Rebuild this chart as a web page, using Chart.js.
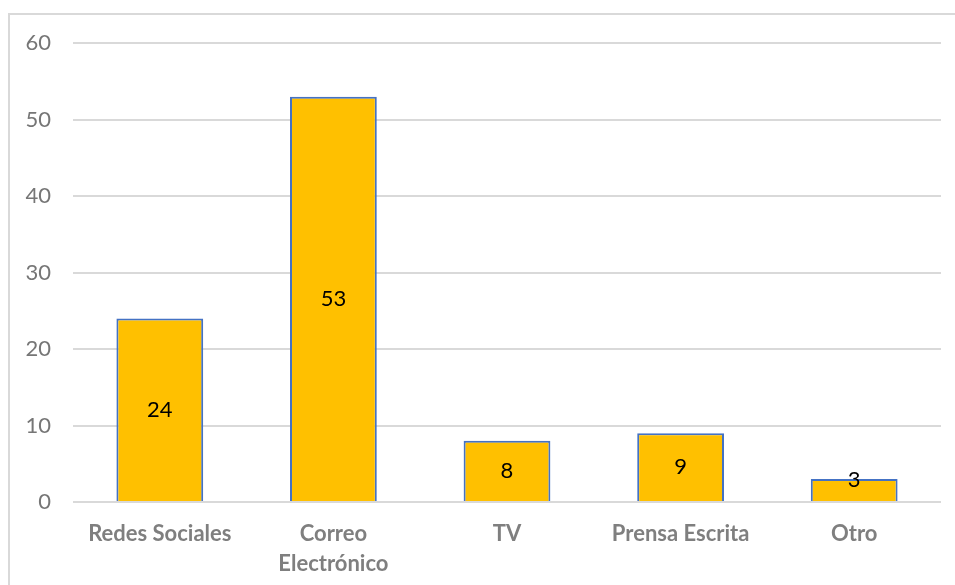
<!DOCTYPE html>
<html>
<head>
<meta charset="utf-8">
<script src="https://cdn.jsdelivr.net/npm/chart.js@4"></script>
<style>
  html, body { margin: 0; padding: 0; background: #ffffff; overflow: hidden; }
  .chart-box {
    position: absolute;
    left: 8px;
    top: 13px;
    width: 952px;
    height: 580px;
    border: 2px solid #d9d9d9;
    box-sizing: border-box;
  }
  .chart-box canvas { display: block; position: relative; top: -7px; }
</style>
</head>
<body>
<div class="chart-box">
  <canvas id="mediaChart" width="943" height="578"></canvas>
</div>
<script>
const categories = ["Redes Sociales", ["Correo", "Electrónico"], "TV", "Prensa Escrita", "Otro"];
const responses = [24, 53, 8, 9, 3];
const yTicks = [0, 10, 20, 30, 40, 50, 60];

const fontFamily = "Lato, 'Open Sans', sans-serif";

// writes each bar's value in the middle of the bar
const valueLabels = {
  id: "valueLabels",
  afterDatasetsDraw(chart) {
    const ctx = chart.ctx;
    const meta = chart.getDatasetMeta(0);
    ctx.save();
    ctx.font = `22px ${fontFamily}`;
    ctx.fillStyle = "#000000";
    ctx.textAlign = "center";
    ctx.textBaseline = "middle";
    meta.data.forEach((bar, i) => {
      const height = bar.base - bar.y;
      const y = height < 30 ? bar.y + 1 : bar.y + height / 2;
      ctx.fillText(String(responses[i]), bar.x, y);
    });
    ctx.restore();
  }
};

new Chart(document.getElementById("mediaChart"), {
  type: "bar",
  data: {
    labels: categories,
    datasets: [{
      data: responses,
      backgroundColor: "#ffc000",
      borderColor: "#4472c4",
      borderWidth: 2,
      borderSkipped: "bottom",
      categoryPercentage: 1,
      barPercentage: 0.5
    }]
  },
  options: {
    responsive: false,
    animation: false,
    layout: {
      padding: { top: 16, right: 12, left: 0, bottom: 0 }
    },
    plugins: {
      legend: { display: false },
      tooltip: { enabled: false }
    },
    scales: {
      x: {
        afterFit: scale => { scale.height = 84; },
        grid: { display: false, drawTicks: false },
        border: { display: false },
        ticks: {
          padding: 17,
          color: "#7f7f7f",
          font: { family: fontFamily, size: 22, weight: "bold", lineHeight: 1.36 },
          maxRotation: 0,
          autoSkip: false
        }
      },
      y: {
        min: 0,
        max: 60,
        afterFit: scale => { scale.width = 63; },
        afterBuildTicks: scale => { scale.ticks = yTicks.map(value => ({ value })); },
        grid: { color: "#d9d9d9", lineWidth: 2, drawTicks: false },
        border: { display: false },
        ticks: {
          padding: 22,
          color: "#767676",
          font: { family: fontFamily, size: 22 }
        }
      }
    }
  },
  plugins: [valueLabels]
});
</script>
</body>
</html>
